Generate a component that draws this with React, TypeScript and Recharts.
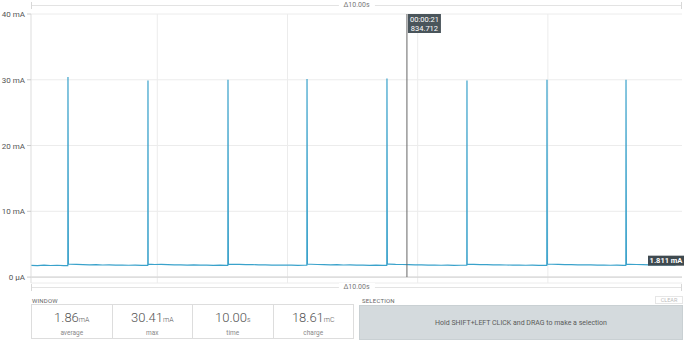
import React from "react";
import {
  LineChart,
  Line,
  XAxis,
  YAxis,
  CartesianGrid,
  ReferenceLine,
} from "recharts";

// window shown: 10 s of samples, 0.1 s apart
const windowStart = 16.06;
const windowEnd = 26.06;
const sampleStep = 0.1;

// baseline current (mA)
const baseline = [
  1.79, 1.74, 1.81, 1.76, 1.8, 1.75,
  1.95, 1.92, 1.9, 1.87, 1.88, 1.84, 1.86, 1.82, 1.84, 1.8, 1.82, 1.78,
  1.96, 1.91, 1.92, 1.88, 1.86, 1.87, 1.83, 1.85, 1.81, 1.83, 1.79, 1.81, 1.77,
  1.94, 1.92, 1.89, 1.9, 1.86, 1.87, 1.83, 1.84, 1.81, 1.82, 1.78, 1.8,
  1.95, 1.91, 1.9, 1.87, 1.88, 1.84, 1.85, 1.82, 1.83, 1.79, 1.81, 1.77,
  1.96, 1.92, 1.91, 1.88, 1.86, 1.87, 1.83, 1.84, 1.8, 1.82, 1.79, 1.8,
  1.94, 1.93, 1.89, 1.9, 1.86, 1.85, 1.84, 1.82, 1.83, 1.8, 1.81, 1.78, 1.79,
  1.95, 1.92, 1.9, 1.88, 1.87, 1.85, 1.86, 1.82, 1.83, 1.8, 1.81, 1.78,
  1.94, 1.91, 1.9, 1.87, 1.86, 1.84, 1.85, 1.81,
];

// current pulses
const spikeTimes = [16.628, 17.857, 19.086, 20.3, 21.528, 22.757, 23.986, 25.2];
const spikePeaks = [30.41, 29.9, 30.0, 30.1, 30.2, 29.9, 30.0, 30.0];

const yTicks = [0, 10, 20, 30, 40];
const xGridTicks = [18, 20, 22, 24];

const cursorTime = 21.834712;
const cursorLines = ["00:00:21", "834.712"];
const currentValue = 1.811;

const stats = [
  { value: "1.86", unit: "mA", label: "average" },
  { value: "30.41", unit: "mA", label: "max" },
  { value: "10.00", unit: "s", label: "time" },
  { value: "18.61", unit: "mC", label: "charge" },
];

const buildData = () => {
  const pts: { t: number; v: number }[] = baseline.map((v, i) => ({
    t: windowStart + i * sampleStep,
    v,
  }));
  spikeTimes.forEach((t, k) => {
    const i = Math.floor((t - windowStart) / sampleStep);
    pts.push({ t: t - 0.003, v: baseline[i] });
    pts.push({ t, v: spikePeaks[k] });
    pts.push({ t: t + 0.006, v: baseline[Math.min(i + 1, baseline.length - 1)] });
  });
  return pts.sort((a, b) => a.t - b.t);
};

const data = buildData();

const font = "Roboto, 'Noto Sans', sans-serif";

// vertical grid at the time ticks, mapped over the plot area
const gridX = (p: any) => {
  const off = p && p.offset ? p.offset : { left: 31, width: 651 };
  return xGridTicks.map(
    (t) => off.left + ((t - windowStart) / (windowEnd - windowStart)) * off.width
  );
};

const YTick = (props: any) => {
  const { x, y, payload } = props;
  const v = payload.value;
  return (
    <text x={x} y={y + 3} fontSize={8} fill="#555" textAnchor="end" fontFamily={font}>
      {v === 0 ? "0 μA" : `${v} mA`}
    </text>
  );
};

const CursorLabel = (props: any) => {
  const vb = props.viewBox || {};
  const x = vb.x + 1;
  const y = vb.y;
  return (
    <g>
      <rect x={x} y={y} width={33} height={19} fill="#4a555b" />
      <text x={x + 16.5} y={y + 8} fill="#fff" fontSize={7.5} textAnchor="middle" fontFamily={font}>
        {cursorLines[0]}
      </text>
      <text x={x + 16.5} y={y + 16.5} fill="#fff" fontSize={7.5} textAnchor="middle" fontFamily={font}>
        {cursorLines[1]}
      </text>
    </g>
  );
};

const ValueLabel = (props: any) => {
  const vb = props.viewBox || {};
  const right = vb.x + vb.width + 2;
  const y = vb.y;
  return (
    <g>
      <rect x={right - 36} y={y - 9.5} width={36} height={10} fill="#3f4a50" />
      <text x={right - 18} y={y - 1.8} fill="#fff" fontSize={7.5} fontWeight={700} textAnchor="middle" fontFamily={font}>
        {currentValue.toFixed(3)} mA
      </text>
    </g>
  );
};

const DeltaBand = ({ top }: { top: number }) => (
  <div style={{ position: "absolute", left: 31, top: top - 4, width: 651, height: 8 }}>
    <div style={{ position: "absolute", left: 0, right: 0, top: 4, height: 1, background: "#e3e3e3" }} />
    <div style={{ position: "absolute", left: 0, top: 1, width: 1, height: 7, background: "#d8d8d8" }} />
    <div style={{ position: "absolute", right: 0, top: 1, width: 1, height: 7, background: "#d8d8d8" }} />
    <div
      style={{
        position: "absolute",
        left: "50%",
        top: 0,
        transform: "translateX(-50%)",
        background: "#fff",
        padding: "0 5px",
        fontSize: 7,
        lineHeight: "8px",
        color: "#777",
      }}
    >
      Δ10.00s
    </div>
  </div>
);

export default function App() {
  return (
    <div
      style={{
        position: "absolute",
        left: 0,
        top: 0,
        width: 690,
        height: 342,
        background: "#fff",
        fontFamily: font,
        overflow: "hidden",
      }}
    >
      <LineChart
        width={690}
        height={290}
        data={data}
        margin={{ top: 14, right: 8, left: 0, bottom: 7 }}
      >
        <CartesianGrid stroke="#ececec" verticalCoordinatesGenerator={gridX} />
        <XAxis
          type="number"
          dataKey="t"
          domain={[windowStart, windowEnd]}
          ticks={xGridTicks}
          allowDataOverflow
          height={0}
          tick={false}
          axisLine={false}
          tickLine={false}
        />
        <YAxis
          type="number"
          domain={[-0.9, 40]}
          ticks={yTicks}
          width={31}
          tickSize={4}
          tickMargin={2}
          allowDataOverflow
          tick={<YTick />}
          tickLine={{ stroke: "#ccc" }}
          axisLine={{ stroke: "#ddd" }}
        />
        <ReferenceLine y={0} stroke="#cfcfcf" />
        <Line
          type="linear"
          dataKey="v"
          stroke="#3aa2cb"
          strokeWidth={1.2}
          dot={false}
          isAnimationActive={false}
        />
        <ReferenceLine
          segment={[
            { x: cursorTime, y: 0 },
            { x: cursorTime, y: 40 },
          ]}
          stroke="#666"
          strokeWidth={1}
          label={<CursorLabel />}
        />
        <ReferenceLine y={currentValue} stroke="none" label={<ValueLabel />} />
      </LineChart>

      <DeltaBand top={5} />
      <DeltaBand top={287} />

      <div style={{ position: "absolute", left: 32, top: 297, fontSize: 6, color: "#666", letterSpacing: 0.2 }}>
        WINDOW
      </div>
      <div
        style={{
          position: "absolute",
          left: 31,
          top: 304,
          width: 323,
          height: 35,
          border: "1px solid #ddd",
          boxSizing: "border-box",
          display: "flex",
        }}
      >
        {stats.map((s, i) => (
          <div
            key={s.label}
            style={{
              flex: 1,
              borderLeft: i === 0 ? "none" : "1px solid #ddd",
              textAlign: "center",
              color: "#555",
            }}
          >
            <div style={{ marginTop: 6, fontSize: 13, lineHeight: "14px", fontWeight: 300 }}>
              {s.value}
              <span style={{ fontSize: 7 }}>{s.unit}</span>
            </div>
            <div style={{ fontSize: 6.5, color: "#888", marginTop: 2 }}>{s.label}</div>
          </div>
        ))}
      </div>

      <div style={{ position: "absolute", left: 362, top: 297, fontSize: 6, color: "#666", letterSpacing: 0.2 }}>
        SELECTION
      </div>
      <div
        style={{
          position: "absolute",
          left: 655,
          top: 296,
          width: 28,
          height: 8,
          border: "1px solid #e6e6e6",
          boxSizing: "border-box",
          fontSize: 5.5,
          lineHeight: "7px",
          color: "#bbb",
          textAlign: "center",
        }}
      >
        CLEAR
      </div>
      <div
        style={{
          position: "absolute",
          left: 359,
          top: 305,
          width: 324,
          height: 35,
          background: "#d4dadd",
          border: "1px solid #c9d0d3",
          boxSizing: "border-box",
          display: "flex",
          alignItems: "center",
          justifyContent: "center",
          fontSize: 7,
          color: "#5a5a5a",
        }}
      >
        Hold SHIFT+LEFT CLICK and DRAG to make a selection
      </div>
    </div>
  );
}
